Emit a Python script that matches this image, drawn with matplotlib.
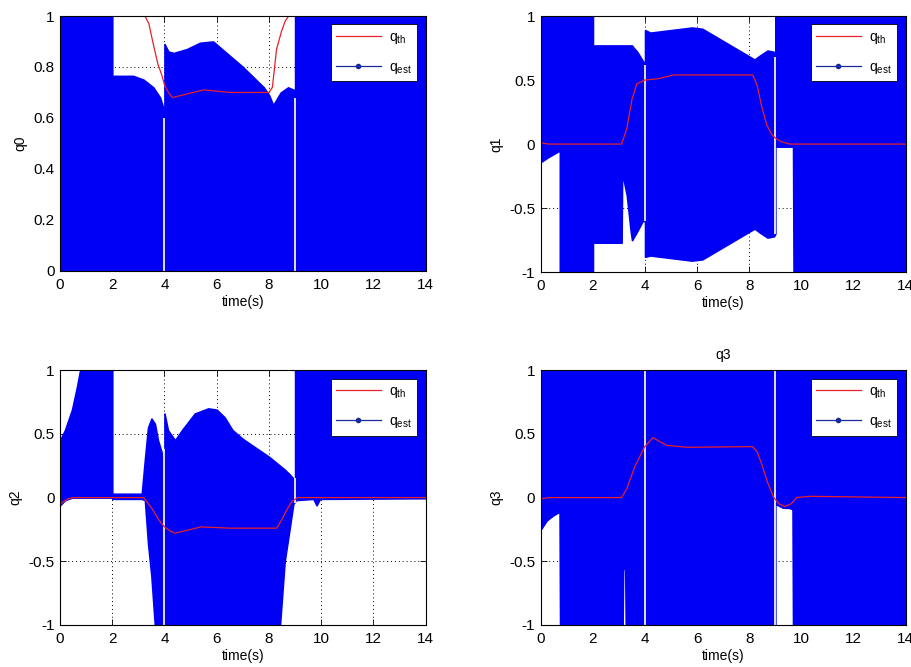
import matplotlib
matplotlib.use("Agg")
import matplotlib.pyplot as plt
from matplotlib.lines import Line2D

plt.rcParams["font.family"] = ["Liberation Sans", "DejaVu Sans"]
plt.rcParams["font.size"] = 10
plt.rcParams["axes.unicode_minus"] = False

# axes ticks
x_ticks = [0, 2, 4, 6, 8, 10, 12, 14]
q0_yticks = [0, 0.2, 0.4, 0.6, 0.8, 1]
q0_yticklabels = ["0", "0.2", "0.4", "0.6", "0.8", "1"]
q_yticks = [-1, -0.5, 0, 0.5, 1]
q_yticklabels = ["-1", "-0.5", "0", "0.5", "1"]

# q0 : enveloppe de q_est (zone remplie par les oscillations)
q0_t = [0, 2, 2, 2.8, 3.2, 3.57, 3.83, 3.95, 4.0, 4.0, 4.15, 4.35, 4.85, 5.36, 5.86, 7.0, 7.8, 8.0, 8.16, 8.45, 8.73, 8.95, 9.0, 9.0, 14]
q0_upper = [1, 1, 0.765, 0.765, 0.75, 0.72, 0.68, 0.64, 0.63, 0.89, 0.86, 0.855, 0.87, 0.895, 0.9, 0.8, 0.72, 0.69, 0.65, 0.7, 0.72, 0.71, 0.7, 1, 1]
q0_lower = [0, 0, 0, 0, 0, 0, 0, 0, 0, 0, 0, 0, 0, 0, 0, 0, 0, 0, 0, 0, 0, 0, 0, 0, 0]
q0_th_t = [0, 3.25, 3.4, 3.57, 3.75, 3.89, 4.0, 4.15, 4.3, 4.7, 5.5, 6.5, 8.0, 8.13, 8.29, 8.48, 8.62, 8.75, 14]
q0_th = [1, 1, 0.97, 0.89, 0.81, 0.77, 0.73, 0.7, 0.68, 0.69, 0.71, 0.7, 0.7, 0.72, 0.87, 0.94, 0.98, 1, 1]
q0_gap_t = [4, 9]
q0_gap_lo = [0, 0]
q0_gap_hi = [0.6, 0.68]

# q1
q1_t = [0, 0.3, 0.73, 0.73, 2.0, 2.0, 3.1, 3.12, 3.3, 3.45, 3.5, 3.53, 3.7, 3.91, 3.97, 4.0, 4.0, 4.2, 5.0, 5.8, 6.2, 7.2, 8.2, 8.4, 8.7, 8.95, 9.0, 9.0, 9.68, 9.7, 14]
q1_upper = [1, 1, 1, 1, 1, 0.77, 0.77, 0.77, 0.77, 0.77, 0.77, 0.76, 0.72, 0.65, 0.63, 0.63, 0.89, 0.87, 0.89, 0.91, 0.9, 0.78, 0.66, 0.69, 0.73, 0.72, 0.7, 1, 1, 1, 1]
q1_lower = [-0.14, -0.1, -0.05, -1, -1, -0.77, -0.77, -0.22, -0.4, -0.68, -0.75, -0.74, -0.68, -0.6, -0.6, -0.6, -0.88, -0.87, -0.89, -0.91, -0.9, -0.78, -0.66, -0.69, -0.73, -0.72, -0.7, -0.02, -0.02, -1, -1]
q1_th_t = [0, 0.3, 3.1, 3.3, 3.5, 3.68, 4.0, 4.5, 5.1, 8.13, 8.3, 8.48, 8.67, 8.85, 8.98, 9.2, 9.55, 14]
q1_th = [0.01, 0.0, 0.0, 0.12, 0.35, 0.47, 0.5, 0.51, 0.54, 0.54, 0.46, 0.29, 0.15, 0.08, 0.05, 0.02, 0.0, 0.0]
q1_gap_t = [4, 9]
q1_gap_lo = [-0.6, -0.7]
q1_gap_hi = [0.62, 0.68]

# q2
q2_t = [0, 0.19, 0.46, 0.65, 0.77, 2.0, 2.0, 3.13, 3.25, 3.37, 3.5, 3.63, 3.75, 3.94, 4.0, 4.0, 4.13, 4.4, 4.67, 5.16, 5.67, 6.0, 6.3, 6.6, 7.0, 7.5, 8.0, 8.42, 8.6, 8.8, 8.93, 9.0, 9.0, 9.7, 9.82, 9.95, 14]
q2_upper = [0.45, 0.53, 0.69, 0.87, 1, 1, 0.03, 0.03, 0.3, 0.55, 0.62, 0.58, 0.45, 0.32, 0.3, 0.66, 0.53, 0.45, 0.53, 0.66, 0.7, 0.69, 0.63, 0.53, 0.46, 0.39, 0.32, 0.25, 0.22, 0.18, 0.15, 0.12, 1, 1, 1, 1, 1]
q2_lower = [-0.06, -0.02, 0, 0, 0, 0, -0.01, -0.01, -0.02, -0.36, -0.62, -1, -1, -1, -1, -1, -1, -1, -1, -1, -1, -1, -1, -1, -1, -1, -1, -1, -0.5, -0.23, -0.05, -0.03, -0.02, -0.01, -0.06, -0.01, -0.005]
q2_th_t = [0, 0.15, 0.3, 0.5, 3.2, 3.5, 3.8, 4.0, 4.2, 4.4, 4.8, 5.4, 6.5, 8.3, 8.5, 8.7, 8.88, 9.1, 14]
q2_th = [-0.05, -0.03, -0.01, 0.0, 0.0, -0.08, -0.18, -0.23, -0.26, -0.28, -0.26, -0.23, -0.24, -0.24, -0.17, -0.09, -0.03, 0.0, 0.0]
q2_gap_t = [4, 9]
q2_gap_lo = [-1, -0.04]
q2_gap_hi = [0.38, 0.15]

# q3
q3_t = [0, 0.22, 0.47, 0.72, 0.74, 3.14, 3.16, 3.24, 3.26, 9.0, 9.0, 9.3, 9.5, 9.66, 9.68, 14]
q3_upper = [1, 1, 1, 1, 1, 1, 1, 1, 1, 1, 1, 1, 1, 1, 1, 1]
q3_lower = [-0.25, -0.18, -0.14, -0.11, -1, -1, -0.56, -0.56, -1, -1, -0.05, -0.08, -0.08, -0.09, -1, -1]
q3_th_t = [0, 0.3, 3.1, 3.3, 3.6, 3.99, 4.3, 4.83, 5.6, 8.13, 8.3, 8.5, 8.7, 8.94, 9.15, 9.36, 9.6, 9.82, 10.3, 14]
q3_th = [-0.01, 0.0, 0.0, 0.07, 0.24, 0.4, 0.47, 0.41, 0.395, 0.4, 0.36, 0.25, 0.12, 0.0, -0.05, -0.07, -0.05, 0.0, 0.01, 0.0]
q3_gap_t = [4, 9]
q3_gap_lo = [-1, -1]
q3_gap_hi = [1, 1]

panneaux = [
    ("q0", q0_t, q0_upper, q0_lower, q0_th_t, q0_th, q0_gap_t, q0_gap_lo, q0_gap_hi, (0, 1), q0_yticks, q0_yticklabels, ""),
    ("q1", q1_t, q1_upper, q1_lower, q1_th_t, q1_th, q1_gap_t, q1_gap_lo, q1_gap_hi, (-1, 1), q_yticks, q_yticklabels, ""),
    ("q2", q2_t, q2_upper, q2_lower, q2_th_t, q2_th, q2_gap_t, q2_gap_lo, q2_gap_hi, (-1, 1), q_yticks, q_yticklabels, ""),
    ("q3", q3_t, q3_upper, q3_lower, q3_th_t, q3_th, q3_gap_t, q3_gap_lo, q3_gap_hi, (-1, 1), q_yticks, q_yticklabels, "q3"),
]

# positions des axes (comme subplot(2,2,k) de MATLAB)
positions = [
    [0.0658, 0.594, 0.401, 0.382],
    [0.593, 0.592, 0.400, 0.384],
    [0.0658, 0.063, 0.401, 0.382],
    [0.593, 0.063, 0.400, 0.382],
]

fig = plt.figure(figsize=(9.12, 6.67), dpi=100)

for (nom, t, up, lo, tt, th, gt, glo, ghi, ylim, yt, ytl, titre), pos in zip(panneaux, positions):
    ax = fig.add_axes(pos)
    ax.set_axisbelow(True)
    ax.grid(True, linestyle=(0, (1, 3)), color="black", linewidth=0.7)
    ax.fill_between(t, lo, up, color="#0000f5", linewidth=1.2, edgecolor="#0000f5", zorder=1)
    ax.vlines(gt, glo, ghi, color="#f0f0f0", linewidth=1.3, zorder=1.5)
    ax.plot(tt, th, color="#e8202a", linewidth=0.9, zorder=2)

    ax.set_xlim(0, 14)
    ax.set_ylim(*ylim)
    ax.set_xticks(x_ticks)
    ax.set_yticks(yt)
    ax.set_yticklabels(ytl)
    ax.tick_params(direction="in", top=True, right=True, length=4, width=0.6, labelsize=11)
    ax.tick_params(axis="x", pad=5)
    ax.tick_params(axis="y", pad=4)
    for s in ax.spines.values():
        s.set_linewidth(0.8)
    ax.set_xlabel("time(s)", fontsize=10, labelpad=2)
    ax.set_ylabel(nom, fontsize=10, labelpad=4)
    if titre:
        ax.set_title(titre, fontsize=10, pad=8)

    poignees = [
        Line2D([], [], color="#e8202a", linewidth=0.9),
        Line2D([], [], color="#1a2a9a", linewidth=0.9, marker=".", markersize=6),
    ]
    leg = ax.legend(poignees, ["q$_\\mathregular{th}$", "q$_\\mathregular{est}$"], loc="upper right",
                    fancybox=False, framealpha=1, edgecolor="black", handlelength=3.2,
                    labelspacing=1.0, borderaxespad=0.6, fontsize=10, handletextpad=0.6)
    leg.get_frame().set_linewidth(0.6)

fig.savefig("out.png", dpi=100)
